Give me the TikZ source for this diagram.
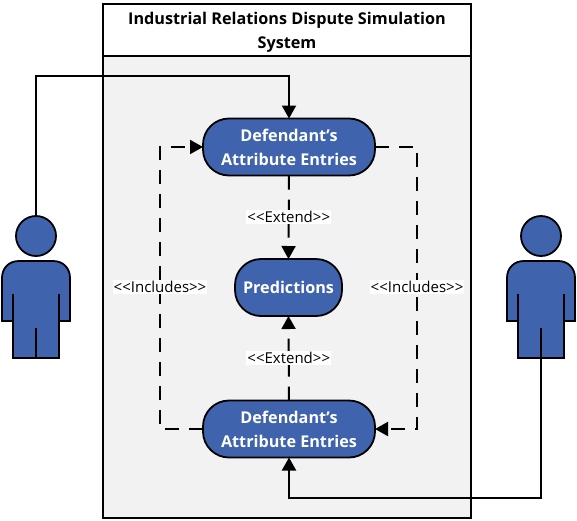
\documentclass[tikz,border=0pt]{standalone}
\usepackage{fontspec}
\setmainfont{Open Sans}
\usetikzlibrary{arrows.meta}
\definecolor{ublue}{HTML}{3F63AC}
\definecolor{ugray}{HTML}{F2F2F2}
\tikzset{
  x=1pt,y=-1pt,
  usecase/.style={draw=black,line width=1.8pt,fill=ublue,rounded corners=26pt,text=white,font=\fontsize{16.2}{24}\selectfont\bfseries,align=center,inner sep=0pt,outer sep=0pt},
  headshape/.style={circle,draw=black,line width=1.8pt,fill=ublue,minimum size=40pt,inner sep=0pt,outer sep=0pt},
  bodyshape/.style={draw=black,line width=1.8pt,fill=ublue,line join=miter},
  limb/.style={draw=black,line width=1.8pt},
  link/.style={draw=black,line width=2pt,-{Triangle[length=13pt,width=14pt]}},
  dlink/.style={link,dash pattern=on 14pt off 10pt},
  tag/.style={fill=white,inner sep=1pt,font=\fontsize{15}{17}\selectfont},
  sysbox/.style={draw=black,line width=1.8pt,outer sep=0pt},
}
\newcommand{\actorfig}[2]{%
  \begin{scope}[shift={(#1,0)}]
    \path[bodyshape] (-34,321) -- (-34,278) .. controls (-34,268) and (-27,261) .. (-17,261) -- (17,261) .. controls (27,261) and (34,268) .. (34,278) -- (34,321) -- (23,321) -- (23,358) -- (-23,358) -- (-23,321) -- cycle;
    \draw[limb] (-23,321) -- (-23,294);
    \draw[limb] (23,321) -- (23,294);
    \draw[limb] (0,358) -- (0,328);
    \node[headshape] (#2) at (0,236) {};
  \end{scope}
}
\begin{document}
\begin{tikzpicture}
\useasboundingbox (0,0) rectangle (577,520);
\node[sysbox,fill=ugray,minimum width=368pt,minimum height=462pt,anchor=north west] (sys) at (103,56) {};
\node[sysbox,fill=white,minimum width=368pt,minimum height=52pt,anchor=north west,align=center,font=\fontsize{16.2}{24}\selectfont\bfseries] (title) at (103,4) {\rule{0pt}{17pt}Industrial Relations Dispute Simulation\\System};
\node[usecase,minimum width=172pt,minimum height=57pt] (uc1) at (289,147) {Defendant's\\Attribute Entries};
\node[usecase,minimum width=107pt,minimum height=57pt] (uc2) at (288.5,287.5) {Predictions};
\node[usecase,minimum width=172pt,minimum height=57pt] (uc3) at (289,429) {Defendant's\\Attribute Entries};
\actorfig{36}{la}
\actorfig{541}{ra}
\coordinate (rleg) at (541,328);
\coordinate (c1) at (36,76);
\coordinate (c2) at (289,76);
\coordinate (c3) at (541,498);
\coordinate (c4) at (289,498);
\coordinate (c5) at (417,147);
\coordinate (c6) at (417,429);
\coordinate (c7) at (160,429);
\coordinate (c8) at (160,147);
\draw[link] (la.north) -- (c1) -- (c2) -- (uc1.north);
\draw[link] (rleg) -- (c3) -- (c4) -- (uc3.south);
\draw[dlink] (uc1.south) -- (uc2.north) node[pos=.5,tag,text=black] (e1) {<{}<Extend>{}>};
\draw[dlink] (uc3.north) -- (uc2.south) node[pos=.5,tag,text=black] (e2) {<{}<Extend>{}>};
\draw[dlink] (uc1.east) -- (c5) -- (c6) -- (uc3.east);
\draw[dlink] (uc3.west) -- (c7) -- (c8) -- (uc1.west);
\node[tag] (i1) at (160,287) {<{}<Includes>{}>};
\node[tag] (i2) at (417,287) {<{}<Includes>{}>};
\end{tikzpicture}
\end{document}
